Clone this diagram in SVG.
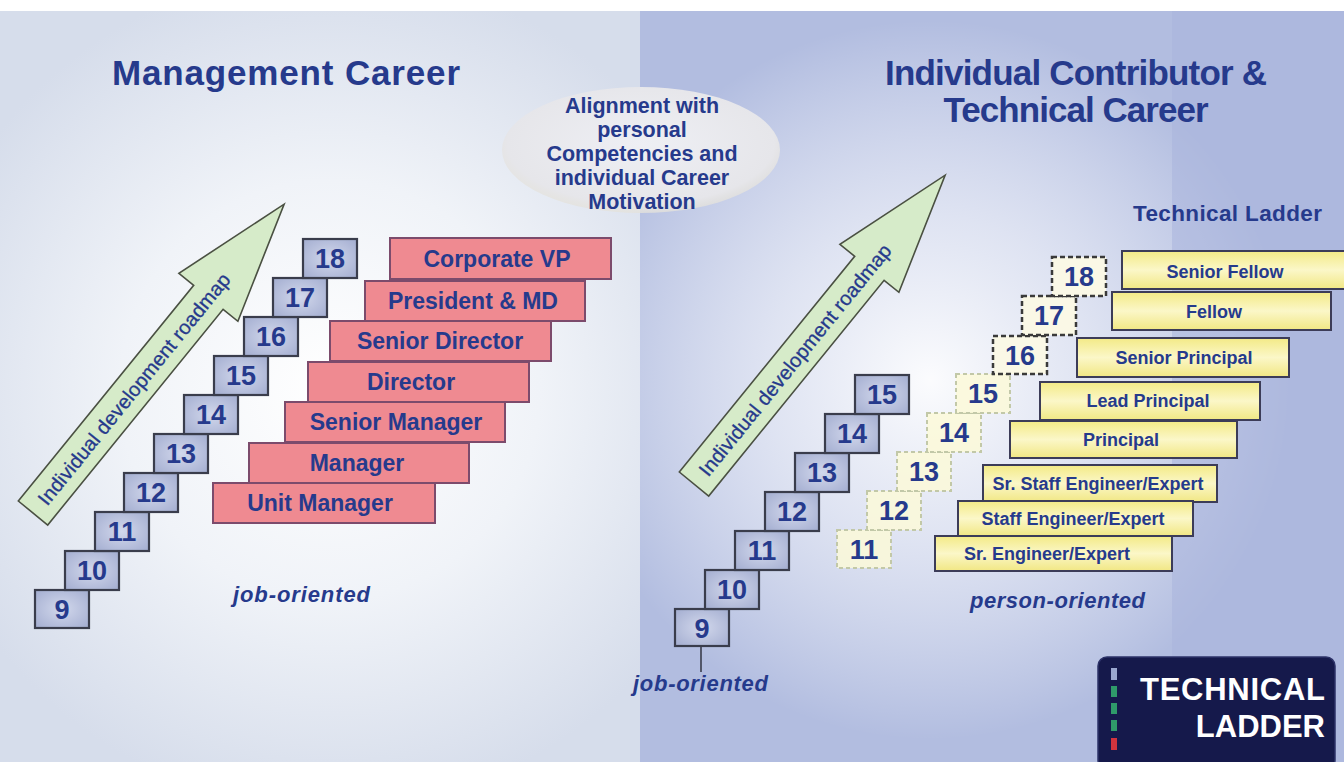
<svg xmlns="http://www.w3.org/2000/svg" width="1344" height="762" viewBox="0 0 1344 762">
<defs>
<radialGradient id="bgL" cx="330" cy="390" r="420" gradientUnits="userSpaceOnUse">
<stop offset="0" stop-color="#ffffff"/><stop offset="0.5" stop-color="#f0f3f8"/><stop offset="1" stop-color="#d6ddeb"/>
</radialGradient>
<radialGradient id="glowR" cx="930" cy="380" r="360" gradientUnits="userSpaceOnUse">
<stop offset="0" stop-color="#ffffff" stop-opacity="0.95"/><stop offset="0.45" stop-color="#f2f4fa" stop-opacity="0.7"/><stop offset="1" stop-color="#ffffff" stop-opacity="0"/>
</radialGradient>
<radialGradient id="stepG" cx="0.5" cy="0.5" r="0.7">
<stop offset="0" stop-color="#d2d8ec"/><stop offset="1" stop-color="#a3add0"/>
</radialGradient>
<linearGradient id="yelG" x1="0" y1="0" x2="0" y2="1">
<stop offset="0" stop-color="#f3ea86"/><stop offset="0.5" stop-color="#fbf7c8"/><stop offset="1" stop-color="#f1e784"/>
</linearGradient>
<radialGradient id="ellG" cx="0.5" cy="0.45" r="0.6">
<stop offset="0" stop-color="#eeeff4"/><stop offset="0.8" stop-color="#e6e6ea"/><stop offset="1" stop-color="#e3dfd0" stop-opacity="0.6"/>
</radialGradient>
<polygon id="arrowShape" points="18.3,501 193.7,285.3 178.9,273.3 284.1,204.2 237.9,321.3 223.1,309.3 47.7,525"/>
</defs>
<style>
.t{font-family:"Liberation Sans",Arial,sans-serif;font-weight:bold;fill:#263a8c}
.title{font-size:35px;text-anchor:middle}
.num{font-size:27px;text-anchor:middle}
.pk{font-size:23px;text-anchor:middle}
.yl{font-size:18px;text-anchor:middle}
.al{font-size:21.5px;text-anchor:middle}
.it{font-style:italic;font-size:22px}
.step{fill:url(#stepG);stroke:#3a3d4c;stroke-width:2.2}
.pink{fill:#ef8a91;stroke:#7c4b6c;stroke-width:2}
.yel{fill:url(#yelG);stroke:#3c3c58;stroke-width:2}
.dl{fill:#fbf9d8;fill-opacity:0.85;stroke:#c2c8a8;stroke-width:2;stroke-dasharray:4 3}
.dd{fill:#faf8e6;stroke:#3a3a3a;stroke-width:2.5;stroke-dasharray:5 3}
.arr{fill:#d6ebc9;stroke:#4a5042;stroke-width:1.6}
.arrT{font-family:"Liberation Sans",Arial,sans-serif;font-size:20px;fill:#263a8c;text-anchor:middle;stroke:#263a8c;stroke-width:0.3}
</style>

<!-- background -->
<rect x="0" y="0" width="1344" height="762" fill="#ffffff"/>
<rect x="0" y="11" width="640" height="751" fill="url(#bgL)"/>
<rect x="640" y="11" width="704" height="751" fill="#b2bde0"/>
<rect x="640" y="11" width="704" height="751" fill="url(#glowR)"/>
<rect x="1172" y="11" width="172" height="751" fill="#a9b4dc" fill-opacity="0.55"/>

<!-- titles -->
<g id="title-mgmt"><text class="t title" x="286" y="85" textLength="348">Management Career</text></g>
<g id="title-tech"><text class="t title" x="1076" y="85" textLength="382">Individual Contributor &amp;</text><text class="t title" x="1076" y="122" textLength="265">Technical Career</text></g>

<!-- alignment ellipse -->
<g id="alignment">
<ellipse cx="641" cy="150" rx="139" ry="63" fill="url(#ellG)"/>
<text class="t al" x="642" y="113">Alignment with</text>
<text class="t al" x="642" y="137">personal</text>
<text class="t al" x="642" y="161">Competencies and</text>
<text class="t al" x="642" y="185">individual Career</text>
<text class="t al" x="642" y="209">Motivation</text>
</g>

<!-- roadmap arrows -->
<g id="arrow-left">
<use href="#arrowShape" class="arr"/>
<text class="arrT" transform="translate(134,389) rotate(-50.9)" dy="7" textLength="292">Individual development roadmap</text>
</g>
<g id="arrow-right" transform="translate(661,-29)">
<use href="#arrowShape" class="arr"/>
<text class="arrT" transform="translate(134,389) rotate(-50.9)" dy="7" textLength="292">Individual development roadmap</text>
</g>

<!-- left stair -->
<g id="mgmt-stair">
<g id="m9"><rect class="step" x="35" y="590" width="54" height="38"/><text class="t num" x="62" y="619">9</text></g>
<g id="m10"><rect class="step" x="65" y="551" width="54" height="39"/><text class="t num" x="92" y="580">10</text></g>
<g id="m11"><rect class="step" x="95" y="512" width="54" height="39"/><text class="t num" x="122" y="541">11</text></g>
<g id="m12"><rect class="step" x="124" y="473" width="54" height="39"/><text class="t num" x="151" y="502">12</text></g>
<g id="m13"><rect class="step" x="154" y="434" width="54" height="39"/><text class="t num" x="181" y="463">13</text></g>
<g id="m14"><rect class="step" x="184" y="395" width="54" height="39"/><text class="t num" x="211" y="424">14</text></g>
<g id="m15"><rect class="step" x="214" y="356" width="54" height="39"/><text class="t num" x="241" y="385">15</text></g>
<g id="m16"><rect class="step" x="244" y="317" width="54" height="39"/><text class="t num" x="271" y="346">16</text></g>
<g id="m17"><rect class="step" x="273" y="278" width="54" height="39"/><text class="t num" x="300" y="307">17</text></g>
<g id="m18"><rect class="step" x="303" y="239" width="54" height="39"/><text class="t num" x="330" y="268">18</text></g>
</g>

<!-- management roles -->
<g id="roles-mgmt">
<g id="r-cvp"><rect class="pink" x="390" y="238" width="221" height="41"/><text class="t pk" x="497" y="267">Corporate VP</text></g>
<g id="r-pmd"><rect class="pink" x="365" y="281" width="220" height="40"/><text class="t pk" x="473" y="309">President &amp; MD</text></g>
<g id="r-sd"><rect class="pink" x="330" y="321" width="221" height="40"/><text class="t pk" x="440" y="349">Senior Director</text></g>
<g id="r-d"><rect class="pink" x="308" y="362" width="221" height="40"/><text class="t pk" x="411" y="390">Director</text></g>
<g id="r-sm"><rect class="pink" x="285" y="402" width="220" height="40"/><text class="t pk" x="396" y="430">Senior Manager</text></g>
<g id="r-m"><rect class="pink" x="249" y="443" width="220" height="40"/><text class="t pk" x="357" y="471">Manager</text></g>
<g id="r-um"><rect class="pink" x="213" y="483" width="222" height="40"/><text class="t pk" x="320" y="511">Unit Manager</text></g>
</g>

<g id="label-job-left"><text class="t it" x="233" y="602" textLength="137">job-oriented</text></g>

<!-- right solid stair -->
<g id="tech-stair">
<g id="t9"><rect class="step" x="675" y="609" width="54" height="37"/><text class="t num" x="702" y="638">9</text></g>
<g id="t10"><rect class="step" x="705" y="570" width="54" height="39"/><text class="t num" x="732" y="599">10</text></g>
<g id="t11"><rect class="step" x="735" y="531" width="54" height="39"/><text class="t num" x="762" y="560">11</text></g>
<g id="t12"><rect class="step" x="765" y="492" width="54" height="39"/><text class="t num" x="792" y="521">12</text></g>
<g id="t13"><rect class="step" x="795" y="453" width="54" height="39"/><text class="t num" x="822" y="482">13</text></g>
<g id="t14"><rect class="step" x="825" y="414" width="54" height="39"/><text class="t num" x="852" y="443">14</text></g>
<g id="t15"><rect class="step" x="855" y="375" width="54" height="39"/><text class="t num" x="882" y="404">15</text></g>
</g>

<g id="connectors">
<line x1="701" y1="646" x2="701" y2="672" stroke="#3a3d4c" stroke-width="1.6"/>
</g>

<g id="label-job-right"><text class="t it" x="633" y="691" textLength="135">job-oriented</text></g>

<!-- dashed stair -->
<g id="ladder-stair">
<g id="d11"><rect class="dl" x="837" y="530" width="54" height="38"/><text class="t num" x="864" y="559">11</text></g>
<g id="d12"><rect class="dl" x="867" y="491" width="54" height="39"/><text class="t num" x="894" y="520">12</text></g>
<g id="d13"><rect class="dl" x="897" y="452" width="54" height="39"/><text class="t num" x="924" y="481">13</text></g>
<g id="d14"><rect class="dl" x="927" y="413" width="54" height="39"/><text class="t num" x="954" y="442">14</text></g>
<g id="d15"><rect class="dl" x="956" y="374" width="54" height="39"/><text class="t num" x="983" y="403">15</text></g>
<g id="d16"><rect class="dd" x="993" y="336" width="54" height="38"/><text class="t num" x="1020" y="365">16</text></g>
<g id="d17"><rect class="dd" x="1022" y="296" width="54" height="39"/><text class="t num" x="1049" y="325">17</text></g>
<g id="d18"><rect class="dd" x="1052" y="257" width="54" height="39"/><text class="t num" x="1079" y="286">18</text></g>
</g>

<g id="label-tl"><text class="t" x="1133" y="221" font-size="22.5" textLength="189">Technical Ladder</text></g>

<!-- technical roles -->
<g id="roles-tech">
<g id="y-sf"><rect class="yel" x="1122" y="251" width="224" height="38"/><text class="t yl" x="1225" y="278">Senior Fellow</text></g>
<g id="y-f"><rect class="yel" x="1112" y="292" width="219" height="38"/><text class="t yl" x="1214" y="318">Fellow</text></g>
<g id="y-sp"><rect class="yel" x="1077" y="338" width="212" height="39"/><text class="t yl" x="1184" y="364">Senior Principal</text></g>
<g id="y-lp"><rect class="yel" x="1040" y="382" width="220" height="38"/><text class="t yl" x="1148" y="407">Lead Principal</text></g>
<g id="y-p"><rect class="yel" x="1010" y="421" width="227" height="37"/><text class="t yl" x="1121" y="446">Principal</text></g>
<g id="y-sse"><rect class="yel" x="983" y="465" width="234" height="37"/><text class="t yl" x="1098" y="490">Sr. Staff Engineer/Expert</text></g>
<g id="y-se"><rect class="yel" x="958" y="501" width="235" height="35"/><text class="t yl" x="1073" y="525">Staff Engineer/Expert</text></g>
<g id="y-sre"><rect class="yel" x="935" y="536" width="237" height="35"/><text class="t yl" x="1047" y="560">Sr. Engineer/Expert</text></g>
</g>

<g id="label-person"><text class="t it" x="970" y="608" textLength="175">person-oriented</text></g>

<!-- badge -->
<g id="badge">
<rect x="1098" y="657" width="237" height="112" rx="9" fill="#15194b" stroke="#2c3268" stroke-width="1.5"/>
<rect x="1111" y="668" width="6" height="12" fill="#9aa7cf"/>
<rect x="1111" y="686" width="6" height="11" fill="#2f9a6a"/>
<rect x="1111" y="703" width="6" height="11" fill="#2f9a6a"/>
<rect x="1111" y="720" width="6" height="11" fill="#2f9a6a"/>
<rect x="1111" y="738" width="6" height="12" fill="#d0343e"/>
<text x="1325" y="700" font-family="Liberation Sans, Arial, sans-serif" font-weight="bold" font-size="31" fill="#ffffff" text-anchor="end" textLength="185">TECHNICAL</text>
<text x="1325" y="737" font-family="Liberation Sans, Arial, sans-serif" font-weight="bold" font-size="31" fill="#ffffff" text-anchor="end">LADDER</text>
</g>
</svg>
